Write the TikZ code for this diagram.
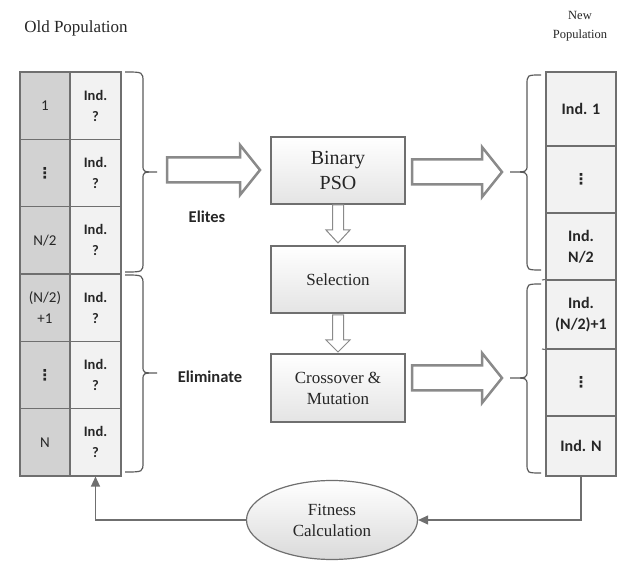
\documentclass[tikz,border=0pt]{standalone}
\usepackage{fontspec}
\setmainfont{Liberation Serif}
\newfontfamily\carlito{Carlito}
\newfontfamily\djv{DejaVu Sans}
\usetikzlibrary{shapes.geometric,arrows.meta,calc}
\definecolor{bordergray}{HTML}{6F6F6F}
\definecolor{celldark}{HTML}{D2D2D2}
\definecolor{celllight}{HTML}{F2F2F2}
\definecolor{hollowgray}{HTML}{8A8A8A}
\definecolor{bracegray}{HTML}{5A5A5A}
\definecolor{txt}{HTML}{262626}
\definecolor{boxbottom}{HTML}{E4E4E4}
\newcommand{\vdts}{{\djv\bfseries\fontsize{15}{15}\selectfont ⋮}}
\begin{document}
\begin{tikzpicture}[x=1pt,y=-1pt,
  every node/.style={text=txt},
  lcellA/.style={draw=bordergray, fill=celldark, line width=1.1pt, minimum width=50pt, minimum height=67.33pt, inner sep=0pt, align=center, font=\carlito\fontsize{15}{21}\selectfont},
  lcellB/.style={draw=bordergray, fill=celllight, line width=1.1pt, minimum width=51pt, minimum height=67.33pt, inner sep=0pt, align=center, font=\carlito\bfseries\fontsize{14.5}{21}\selectfont},
  rcell/.style={draw=bordergray, fill=celllight, line width=1.1pt, minimum width=70pt, inner sep=0pt, align=center, font=\carlito\bfseries\fontsize{16}{21}\selectfont},
  procbox/.style={draw=bordergray, line width=1.2pt, top color=white, bottom color=boxbottom, minimum width=134pt, minimum height=67pt, inner sep=0pt, align=center, font=\fontsize{17}{21}\selectfont},
  hollow/.style={draw=hollowgray, fill=white, line width=2.5pt, line join=miter},
  hollowsmall/.style={draw=hollowgray, fill=white, line width=1pt},
  bracestyle/.style={draw=bracegray, line width=1.2pt},
  fb/.style={draw=bordergray, line width=1.2pt, -{Triangle[length=10pt,width=9pt]}},
  lbl/.style={font=\carlito\bfseries\fontsize{16.5}{20}\selectfont}
]
\useasboundingbox (0,0) rectangle (630,561);

% titles
\node[font=\fontsize{17}{20}\selectfont] (oldt) at (76,28) {Old Population};
\node[font=\fontsize{12.5}{19}\selectfont, align=center] (newt) at (580,26) {New\\Population};

% old population table
\node[lcellA] (l1a) at (45,105.67) {1};
\node[lcellA] (l2a) at (45,173) {\vdts};
\node[lcellA] (l3a) at (45,240.33) {N/2};
\node[lcellA] (l4a) at (45,307.67) {(N/2)\\+1};
\node[lcellA] (l5a) at (45,375) {\vdts};
\node[lcellA] (l6a) at (45,442.33) {N};
\node[lcellB] (l1b) at (95.5,105.67) {Ind.\\?};
\node[lcellB] (l2b) at (95.5,173) {Ind.\\?};
\node[lcellB] (l3b) at (95.5,240.33) {Ind.\\?};
\node[lcellB] (l4b) at (95.5,307.67) {Ind.\\?};
\node[lcellB] (l5b) at (95.5,375) {Ind.\\?};
\node[lcellB] (l6b) at (95.5,442.33) {Ind.\\?};

% new population table
\node[rcell, minimum height=74pt] (r1) at (581,109) {Ind. 1};
\node[rcell, minimum height=67pt] (r2) at (581,179.5) {\vdts};
\node[rcell, minimum height=67pt] (r3) at (581,246.5) {Ind.\\N/2};
\node[rcell, minimum height=69pt] (r4) at (581,314.5) {Ind.\\(N/2)+1};
\node[rcell, minimum height=67pt] (r5) at (581,382.5) {\vdts};
\node[rcell, minimum height=60pt] (r6) at (581,446) {Ind. N};
\draw[draw=bordergray, line width=1.1pt] (542,280) -- (r4.north west);
\draw[draw=bordergray, line width=1.1pt] (542,349) -- (r4.south west);

% process boxes
\node[procbox, font=\fontsize{20}{25}\selectfont] (pso) at (338,170.5) {Binary\\PSO};
\node[procbox] (sel) at (338,279.5) {Selection};
\node[procbox, minimum height=68pt] (cm) at (338,388) {Crossover \&\\Mutation};

% fitness ellipse
\node[ellipse, draw=bordergray, line width=1.2pt, top color=white, bottom color=boxbottom!90!gray, minimum width=171pt, minimum height=79pt, inner sep=0pt, align=center, font=\fontsize{17}{21}\selectfont] (fit) at (332,520) {Fitness\\Calculation};

% labels
\node[lbl] (elites) at (207,217) {Elites};
\node[lbl] (elim) at (210,377) {Eliminate};

% braces
\foreach \b/\s/\t/\ya/\ym/\yb in {125/143/157/72/172/272, 125/143/157/275/373/472, 541/527/510/75/172/270, 541/527/510/284/378/473}
  \draw[bracestyle] (\b,\ya) .. controls (\s,\ya) .. (\s,\ya+10) -- (\s,\ym-7) .. controls (\s,\ym) .. (\t,\ym) .. controls (\s,\ym) .. (\s,\ym+7) -- (\s,\yb-10) .. controls (\s,\yb) .. (\b,\yb);

% big hollow arrows
\foreach \a/\h/\c/\y in {167/240/260/170, 412/482/502/172, 412/482/502/378}
  \draw[hollow] (\a,\y-12.5) -- (\h,\y-12.5) -- (\h,\y-25) -- (\c,\y) -- (\h,\y+25) -- (\h,\y+12.5) -- (\a,\y+12.5) -- cycle;

% small vertical hollow arrows
\foreach \t/\h/\c in {205/230/243, 315/340/352}
  \draw[hollowsmall] (332.5,\t) -- (343.5,\t) -- (343.5,\h) -- (350,\h) -- (338,\c) -- (326,\h) -- (332.5,\h) -- cycle;

% feedback connectors
\draw[fb] (r6.south) -- (r6.south |- fit.east) -- (fit.east);
\draw[fb] (fit.west) -- (fit.west -| l6b.south) -- (l6b.south);
\end{tikzpicture}
\end{document}
